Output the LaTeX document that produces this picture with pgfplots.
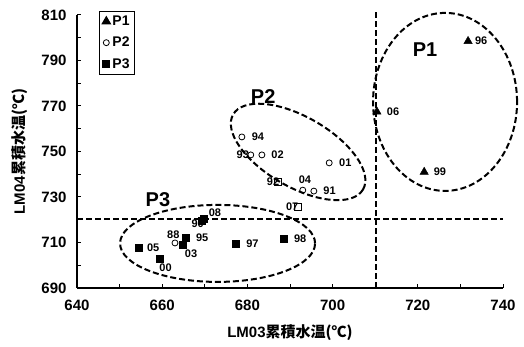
\documentclass[border=0pt]{standalone}
\usepackage{pgfplots}
\pgfplotsset{compat=1.18}
\usepackage{fontspec}
\setmainfont{Liberation Sans}
\newfontfamily\cjk{Noto Sans CJK JP}
\begin{document}
\begin{tikzpicture}
\tikzset{dsh/.style={line width=2pt, dash pattern=on 6pt off 3pt},
  lbl/.style={font=\bfseries\fontsize{11}{11}\selectfont, inner sep=0pt},
  big/.style={font=\bfseries\fontsize{20}{20}\selectfont, inner sep=0pt}}
\begin{axis}[
  scale only axis, width=426pt, height=273pt,
  xmin=640, xmax=740, ymin=690, ymax=810,
  axis x line*=bottom, axis y line*=left,
  axis line style={line width=1.4pt, -},
  xtick={640,660,...,740}, ytick={690,710,...,810},
  minor x tick num=1, minor y tick num=1,
  tick align=inside, major tick length=4pt, minor tick length=4pt,
  every tick/.style={black, line width=1pt},
  ticklabel style={font=\bfseries\fontsize{15}{15}\selectfont},
  yticklabel style={xshift=-7pt},
  xticklabel style={yshift=-8pt},
  /pgf/number format/assume math mode=true,
  /pgf/number format/set thousands separator={},
  xlabel={\bfseries LM03\cjk 累積水温(℃)},
  ylabel={\bfseries LM04\cjk 累積水温(℃)},
  every axis x label/.style={at={(axis description cs:0.5,-0.165)}, anchor=center,
    font=\bfseries\fontsize{15}{15}\selectfont},
  every axis y label/.style={at={(axis description cs:-0.134,0.5)}, anchor=center, rotate=90,
    font=\bfseries\fontsize{15}{15}\selectfont},
  clip=false,
  legend style={at={(0.052,1.015)}, anchor=north west, draw=black, line width=1pt,
    font=\bfseries\fontsize{14}{14}\selectfont, inner sep=2.5pt, row sep=6pt,
    legend cell align=left},
]
\path (rel axis cs:0,0) ++(-77pt,-59pt) rectangle ++(524pt,347pt);
\addplot[only marks, mark=triangle*, mark size=4.8pt, black] coordinates {
(731.8,798.5) (710.4,767.5) (721.5,741)};
\addlegendentry{P1}
\addplot[only marks, mark=o, mark size=3pt, black, thick] coordinates {
(678.7,756.4) (680.8,748.5) (683.4,748.5) (699.2,745) (693,733) (695.6,732.6) (663,709.8)};
\addlegendentry{P2}
\addplot[only marks, mark=square*, mark size=3.5pt, black] coordinates {
(654.6,707.6) (659.5,702.7) (664.7,709.0) (665.6,712.0) (669.3,719.8) (669.8,720.6) (677.2,709.4) (688.5,711.6)};
\addlegendentry{P3}
\addplot[only marks, mark=square, mark size=3.3pt, black, thick, forget plot] coordinates {
(687.2,736.6) (691.9,725.6)};
% reference lines
\draw[dsh] (axis cs:710.3,811.3) -- (axis cs:710.3,689);
\draw[dsh] (axis cs:640,720.5) -- (axis cs:740,720.5);
% ellipses
\draw[dsh] (axis cs:726.4,771.8) ellipse [x radius=72pt, y radius=89pt];
\draw[dsh, rotate around={-30:(axis cs:691.9,749.8)}] (axis cs:691.9,749.8) ellipse [x radius=75pt, y radius=35pt];
\draw[dsh] (axis cs:673,709.6) ellipse [x radius=97.5pt, y radius=38.5pt];
% group labels
\node[big] at (axis cs:721.7,794.6) {P1};
\node[big] at (axis cs:683.7,774) {P2};
\node[big] at (axis cs:659,729) {P3};
% point labels
\node[lbl, anchor=west] at (axis cs:733.4,798.5) {96};
\node[lbl, anchor=west] at (axis cs:712.7,767.5) {06};
\node[lbl, anchor=west] at (axis cs:723.7,741) {99};
\node[lbl, anchor=west] at (axis cs:681,756.4) {94};
\node[lbl, anchor=east] at (axis cs:680.4,748.5) {93};
\node[lbl, anchor=west] at (axis cs:685.6,748.5) {02};
\node[lbl, anchor=west] at (axis cs:701.5,745) {01};
\node[lbl, anchor=south] at (axis cs:693.5,735.8) {04};
\node[lbl, anchor=west] at (axis cs:697.8,732.6) {91};
\node[lbl, anchor=south] at (axis cs:662.6,711.6) {88};
\node[lbl, anchor=east] at (axis cs:687.5,736.6) {92};
\node[lbl, anchor=east] at (axis cs:692,725.6) {07};
\node[lbl, anchor=west] at (axis cs:656.4,707.6) {05};
\node[lbl, anchor=north west] at (axis cs:659.3,700.6) {00};
\node[lbl, anchor=north west] at (axis cs:665.3,707.0) {03};
\node[lbl, anchor=west] at (axis cs:667.9,712.0) {95};
\node[lbl, anchor=east] at (axis cs:669.8,718.3) {90};
\node[lbl, anchor=south west] at (axis cs:670.9,721.4) {08};
\node[lbl, anchor=west] at (axis cs:679.7,709.4) {97};
\node[lbl, anchor=west] at (axis cs:690.9,711.6) {98};
\end{axis}
\end{tikzpicture}
\end{document}
